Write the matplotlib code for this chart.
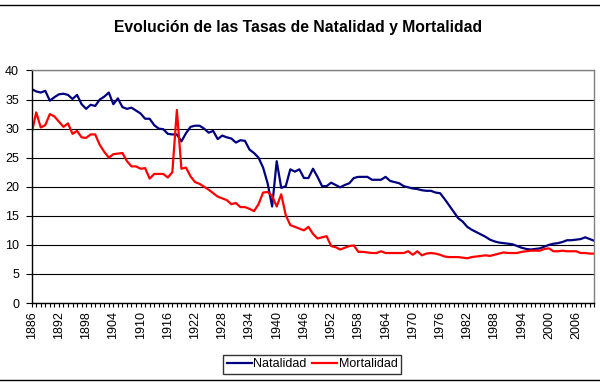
import numpy as np
import matplotlib
matplotlib.use("Agg")
import matplotlib.pyplot as plt
from matplotlib.lines import Line2D
from matplotlib.ticker import MultipleLocator

plt.rcParams["font.family"] = ["Liberation Sans", "DejaVu Sans"]

years = np.arange(1886, 2011)

natalidad = [
    36.8, 36.4, 36.2, 36.5, 34.8, 35.4, 35.9, 36.0, 35.8, 35.1,
    35.8, 34.2, 33.4, 34.1, 33.9, 35.0, 35.5, 36.2, 34.2, 35.2,
    33.7, 33.4, 33.6, 33.1, 32.6, 31.7, 31.7, 30.6, 30.0, 29.9,
    29.1, 29.0, 29.0, 27.8, 29.2, 30.3, 30.5, 30.5, 30.0, 29.3,
    29.6, 28.2, 28.8, 28.5, 28.3, 27.6, 28.0, 27.9, 26.4, 25.8,
    25.0, 23.3, 20.6, 16.6, 24.4, 19.8, 20.1, 23.0, 22.6, 23.0,
    21.5, 21.5, 23.1, 21.7, 20.1, 20.1, 20.7, 20.3, 19.9, 20.3,
    20.6, 21.5, 21.7, 21.7, 21.7, 21.2, 21.2, 21.2, 21.7, 21.0,
    20.8, 20.6, 20.1, 19.9, 19.7, 19.6, 19.4, 19.3, 19.3, 19.0,
    18.9, 17.9, 16.8, 15.7, 14.6, 14.0, 13.1, 12.6, 12.2, 11.8,
    11.4, 10.9, 10.6, 10.4, 10.3, 10.2, 10.1, 9.8, 9.5, 9.3,
    9.2, 9.3, 9.4, 9.7, 10.0, 10.2, 10.3, 10.5, 10.8, 10.8,
    10.9, 11.0, 11.3, 11.0, 10.7,
]

mortalidad = [
    29.2, 32.8, 30.2, 30.6, 32.5, 32.1, 31.2, 30.3, 30.9, 29.1,
    29.6, 28.5, 28.4, 29.0, 29.0, 27.2, 26.0, 25.0, 25.6, 25.7,
    25.8, 24.4, 23.5, 23.5, 23.1, 23.2, 21.4, 22.2, 22.2, 22.2,
    21.6, 22.5, 33.2, 23.1, 23.3, 21.8, 20.8, 20.5, 20.0, 19.5,
    18.9, 18.3, 18.0, 17.7, 17.0, 17.2, 16.5, 16.5, 16.2, 15.8,
    17.0, 19.0, 19.1, 18.4, 16.6, 18.7, 15.1, 13.4, 13.1, 12.8,
    12.5, 13.1, 11.9, 11.1, 11.3, 11.5, 9.8, 9.6, 9.2, 9.5,
    9.8, 9.9, 8.8, 8.8, 8.7, 8.6, 8.6, 8.9, 8.6, 8.6,
    8.6, 8.6, 8.6, 8.9, 8.3, 8.9, 8.2, 8.5, 8.6, 8.5,
    8.3, 8.0, 7.9, 7.9, 7.9, 7.8, 7.7, 7.9, 8.0, 8.1,
    8.2, 8.1, 8.3, 8.5, 8.7, 8.6, 8.6, 8.6, 8.8, 8.9,
    9.0, 9.0, 9.0, 9.3, 9.4, 8.9, 8.9, 9.0, 8.9, 8.9,
    8.9, 8.6, 8.6, 8.5, 8.5,
]

fig = plt.figure(figsize=(6, 3.86), dpi=100)
ax = fig.add_axes([0.0528, 0.215, 0.9377, 0.6024])

ax.plot(years, natalidad, color="#000080", lw=1.6, label="Natalidad")
ax.plot(years, mortalidad, color="#ff0000", lw=1.6, label="Mortalidad")

ax.set_xlim(1886, 2010)
ax.set_ylim(0, 40)
ax.yaxis.set_major_locator(MultipleLocator(5))
ax.set_xticks(np.arange(1886, 2011, 6))
ax.xaxis.set_minor_locator(MultipleLocator(1))
ax.tick_params(axis="x", which="both", direction="out", length=3, width=0.8,
               labelsize=9, labelrotation=90, pad=3)
ax.tick_params(axis="y", direction="out", length=4, width=0.8, labelsize=9, pad=5)

ax.grid(axis="y", color="black", lw=0.8)
ax.spines["top"].set_color("#808080")
ax.spines["right"].set_color("#808080")
ax.spines["left"].set_color("black")
ax.spines["bottom"].set_color("black")
for s in ax.spines.values():
    s.set_linewidth(1.0)

fig.text(0.497, 0.930, "Evolución de las Tasas de Natalidad y Mortalidad",
         ha="center", va="center", fontsize=11.3, fontweight="bold")

leg = fig.legend(loc="center", bbox_to_anchor=(0.52, 0.0557), ncol=2,
                 fontsize=9, frameon=True, fancybox=False, handlelength=2.0,
                 handletextpad=0.1, columnspacing=0.5, borderpad=0.3,
                 borderaxespad=0)
leg.get_frame().set_edgecolor("black")
leg.get_frame().set_linewidth(1.0)

# chart area border lines (top and bottom)
fig.add_artist(Line2D([0, 1], [0.987, 0.987], transform=fig.transFigure, color="black", lw=1))
fig.add_artist(Line2D([0, 1], [0.0155, 0.0155], transform=fig.transFigure, color="black", lw=1))

fig.savefig("out.png", dpi=100)
